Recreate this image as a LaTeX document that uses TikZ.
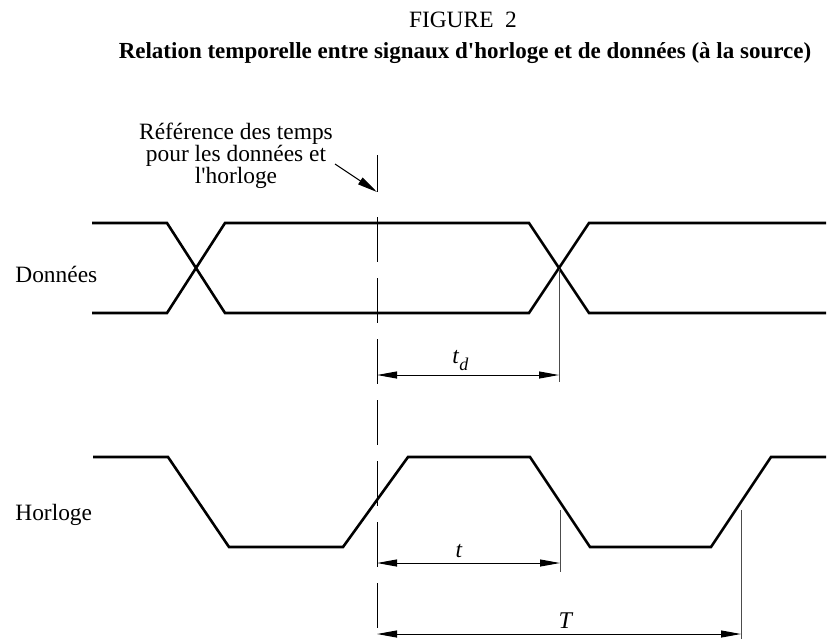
\documentclass[tikz,border=0pt]{standalone}
\usepackage{fontspec}
\setmainfont{Liberation Serif}
\usetikzlibrary{arrows.meta}
\begin{document}
\begin{tikzpicture}[x=0.5pt,y=-0.5pt,
  sig/.style={line width=1.3pt,line join=miter},
  dim/.style={line width=0.5pt,{Triangle[length=10pt,width=3.5pt]}-{Triangle[length=10pt,width=3.5pt]}},
  ext/.style={line width=0.5pt,black!70},
  lbl/.style={inner sep=0pt,font=\fontsize{11.7}{11}\selectfont}]
\useasboundingbox (0,0) rectangle (836,639);
% titles
\node[lbl,anchor=base,font=\fontsize{11.7}{12}\selectfont] (fig) at (463,27) {FIGURE~~2};
\node[lbl,anchor=base,font=\fontsize{11.5}{12}\selectfont\bfseries] (title) at (465,58) {Relation temporelle entre signaux d\textquotesingle horloge et de données (à la source)};
% labels
\node[lbl,anchor=base west] (don) at (15,282) {Données};
\node[lbl,anchor=base west] (hor) at (15,520) {Horloge};
\node[lbl,align=center,anchor=base] (ref) at (236,183) {Référence des temps\\pour les données et\\l\textquotesingle horloge};
% data signal
\draw[sig] (92,223) -- (167,223) -- (225,313) -- (529,313) -- (589,223) -- (826,223);
\draw[sig] (92,313) -- (167,313) -- (225,223) -- (529,223) -- (589,313) -- (826,313);
% clock signal
\draw[sig] (93,457) -- (168,457) -- (229,547) -- (343,547) -- (408,457) -- (530,457) -- (590,547) -- (711,547) -- (771,457) -- (826,457);
% reference dashed line
\coordinate (reftop) at (377,155);
\coordinate (refarr) at (377,192);
\coordinate (refa) at (377,217);
\coordinate (refbot) at (377,639);
\draw[line width=0.5pt] (reftop) -- (refarr);
\draw[line width=0.5pt,dash pattern=on 22.5pt off 8pt] (refa) -- (refbot);
% pointer arrow
\coordinate (ptr) at (335,164);
\draw[line width=0.5pt,-{Triangle[length=10pt,width=4pt]}] (ptr) -- (refarr);
% extension lines
\coordinate (xd) at (559,269);
\coordinate (xdb) at (559,382);
\draw[ext] (xd) -- (xdb);
\coordinate (xt) at (560,510);
\coordinate (xtb) at (560,572);
\draw[ext] (xt) -- (xtb);
\coordinate (xT) at (741,510);
\coordinate (xTb) at (741,639);
\draw[ext] (xT) -- (xTb);
% dimension arrows
\coordinate (tdl) at (377,375);
\coordinate (tdr) at (559,375);
\draw[dim] (tdl) -- (tdr);
\node[lbl,anchor=base west] (tdlab) at (452,363) {\textit{t}\raisebox{-3.5pt}{\fontsize{9}{9}\selectfont\textit{d}}};
\coordinate (tl) at (377,563);
\coordinate (tr) at (560,563);
\draw[dim] (tl) -- (tr);
\node[lbl,anchor=base] (tlab) at (459,557) {\textit{t}};
\coordinate (Tl) at (377,634);
\coordinate (Tr) at (741,634);
\draw[dim] (Tl) -- (Tr);
\node[lbl,anchor=base,font=\fontsize{12}{12}\selectfont] (Tlab) at (566,628) {\textit{T}};
\end{tikzpicture}
\end{document}
